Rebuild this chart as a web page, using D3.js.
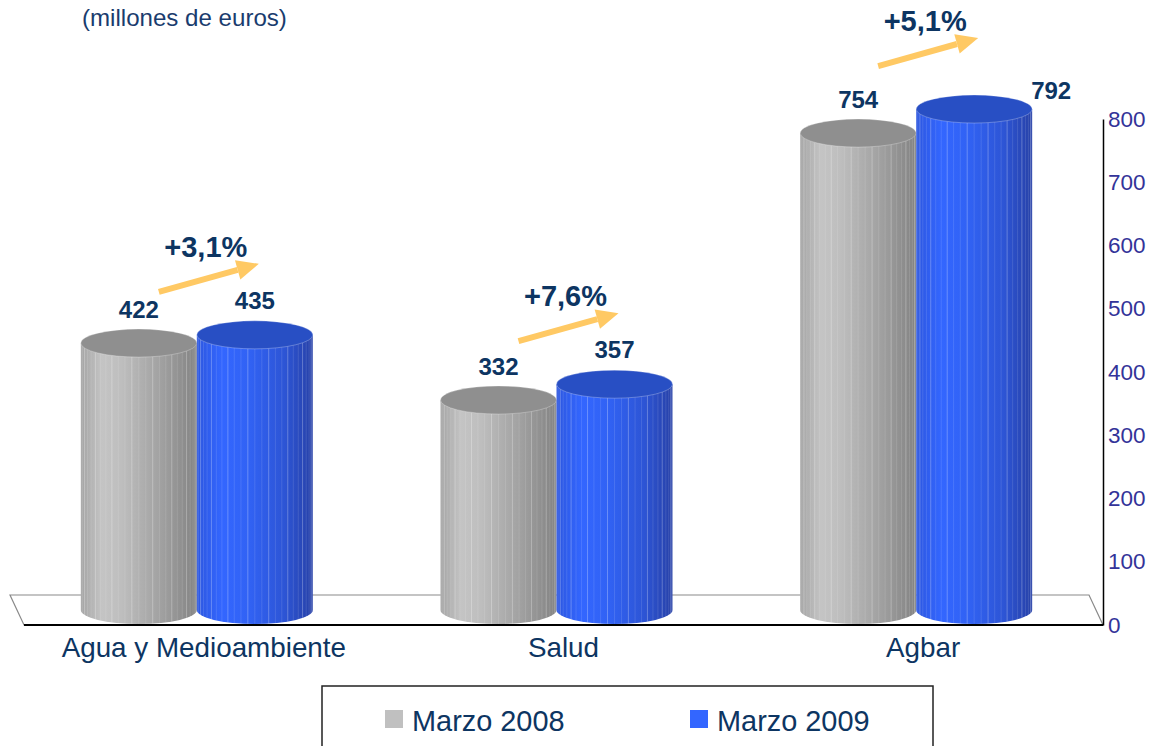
<!DOCTYPE html>
<html>
<head>
<meta charset="utf-8">
<script src="https://cdn.jsdelivr.net/npm/d3@7"></script>
<style>
  body { margin: 0; background: #fff; }
  svg { display: block; font-family: "Liberation Sans", Arial, sans-serif; }
</style>
</head>
<body>
<svg id="chart"></svg>
<script>
// data
const categories = ['Agua y Medioambiente', 'Salud', 'Agbar'];
const seriesNames = ['Marzo 2008', 'Marzo 2009'];
const values2008 = [422, 332, 754];
const values2009 = [435, 357, 792];
const growthLabels = ['+3,1%', '+7,6%', '+5,1%'];
const yTicks = [0, 100, 200, 300, 400, 500, 600, 700, 800];

const W = 1149, H = 746;
const navy = '#0d3562';
const svg = d3.select('#chart').attr('width', W).attr('height', H);
const defs = svg.append('defs');

// scales
const y = d3.scaleLinear().domain([0, 800]).range([625, 119]);
const x = d3.scaleBand().domain(categories).range([24, 1103]);
const y0 = y(0);
// depth offset of the floor (back edge), cylinders stand at half of it
const depthX = -14, depthY = -30;
const rx = 58, ry = 14;

// gradients
function grad(id, stops) {
  const g = defs.append('linearGradient').attr('id', id)
    .attr('x1', '0%').attr('x2', '100%').attr('y1', '0%').attr('y2', '0%');
  stops.forEach(s => g.append('stop').attr('offset', s[0]).attr('stop-color', s[1]));
}
grad('gGray', [['0%', '#a4a4a4'], ['18%', '#c4c4c4'], ['35%', '#bebebe'], ['70%', '#a0a0a0'], ['100%', '#838383']]);
grad('gBlue', [['0%', '#2d57e0'], ['22%', '#3366ff'], ['45%', '#3162f4'], ['75%', '#2d55d6'], ['100%', '#2741a8']]);

// floor
svg.append('polygon')
  .attr('points', [[24, y0], [1103, y0], [1103 + depthX, y0 + depthY], [24 + depthX, y0 + depthY]].join(' '))
  .attr('fill', '#fff')
  .attr('stroke', '#8a8a8a')
  .attr('stroke-width', 1.2);

// cylinders
function cylinder(cx, value, fill, topFill) {
  const base = y0 + depthY / 2;
  const top = y(value) + depthY / 2;
  const g = svg.append('g');
  g.append('path')
    .attr('d', `M${cx - rx},${top} L${cx - rx},${base} A${rx},${ry} 0 0 0 ${cx + rx},${base} L${cx + rx},${top} Z`)
    .attr('fill', fill);
  const n = 26;
  for (let i = 1; i < n; i++) {
    const t = Math.PI * i / n;
    const xx = cx - rx * Math.cos(t);
    const off = ry * Math.sin(t);
    g.append('line')
      .attr('x1', xx).attr('x2', xx)
      .attr('y1', top + off).attr('y2', base + off)
      .attr('stroke', '#ffffff')
      .attr('stroke-opacity', i % 3 === 0 ? 0.35 : 0.15)
      .attr('stroke-width', 0.8);
  }
  g.append('ellipse')
    .attr('cx', cx).attr('cy', top).attr('rx', rx).attr('ry', ry)
    .attr('fill', topFill)
    .attr('stroke', '#ffffff').attr('stroke-opacity', 0.35).attr('stroke-width', 0.8);
  return top - ry;
}

const maxVal = d3.max(values2009);

categories.forEach((c, i) => {
  const cx = x(c) + x.bandwidth() / 2 + depthX / 2;
  const grayCx = cx - rx, blueCx = cx + rx;
  const grayTop = cylinder(grayCx, values2008[i], 'url(#gGray)', '#8f8f8f');
  const blueTop = cylinder(blueCx, values2009[i], 'url(#gBlue)', '#284fc4');

  // value labels
  svg.append('text')
    .attr('x', grayCx).attr('y', grayTop - 11)
    .attr('text-anchor', 'middle')
    .attr('font-size', 24).attr('font-weight', 'bold').attr('fill', navy)
    .text(values2008[i]);
  const side = values2009[i] === maxVal;
  svg.append('text')
    .attr('x', side ? blueCx + rx - 1 : blueCx)
    .attr('y', side ? blueTop + 4 : blueTop - 12)
    .attr('text-anchor', side ? 'start' : 'middle')
    .attr('font-size', 24).attr('font-weight', 'bold').attr('fill', navy)
    .text(values2009[i]);

  // growth arrow
  const fx = x(c) + x.bandwidth() / 2;
  const mid = blueTop - 43;
  const x1 = fx - 45, y1 = mid + 14, x2 = fx + 55, y2 = mid - 14;
  const ang = Math.atan2(y2 - y1, x2 - x1);
  const hl = 22, hw = 10;
  const bx = x2 - hl * Math.cos(ang), by = y2 - hl * Math.sin(ang);
  svg.append('line')
    .attr('x1', x1).attr('y1', y1).attr('x2', bx).attr('y2', by)
    .attr('stroke', '#ffc964').attr('stroke-width', 6);
  svg.append('polygon')
    .attr('points', [[x2, y2],
      [bx - hw * Math.sin(ang), by + hw * Math.cos(ang)],
      [bx + hw * Math.sin(ang), by - hw * Math.cos(ang)]].join(' '))
    .attr('fill', '#ffc964');
  svg.append('text')
    .attr('x', fx + 2).attr('y', mid - 21)
    .attr('text-anchor', 'middle')
    .attr('font-size', 29).attr('font-weight', 'bold').attr('fill', navy)
    .text(growthLabels[i]);

  // category label
  svg.append('text')
    .attr('x', fx).attr('y', 657)
    .attr('text-anchor', 'middle')
    .attr('font-size', 27.8).attr('fill', navy)
    .text(c);
});

// front edge of the floor
svg.append('line')
  .attr('x1', 24).attr('x2', 1103).attr('y1', y0).attr('y2', y0)
  .attr('stroke', '#000').attr('stroke-width', 2);

// y axis on the right
const yAxis = d3.axisRight(y).tickValues(yTicks).tickSize(0).tickPadding(5);
const ag = svg.append('g').attr('transform', 'translate(1103,0)').call(yAxis);
ag.select('.domain').attr('stroke', '#000').attr('stroke-width', 1.5);
ag.selectAll('text')
  .attr('font-size', 22.5)
  .attr('font-family', '"Liberation Sans", Arial, sans-serif')
  .attr('fill', '#333399');

// title
svg.append('text')
  .attr('x', 82).attr('y', 26)
  .attr('font-size', 24.1).attr('fill', '#1a3c6e')
  .text('(millones de euros)');

// legend
svg.append('rect')
  .attr('x', 322).attr('y', 686).attr('width', 611).attr('height', 90)
  .attr('fill', '#fff').attr('stroke', '#222').attr('stroke-width', 1.5);
const legendColors = ['#c0c0c0', '#3366ff'];
const legendX = [385, 690];
seriesNames.forEach((s, i) => {
  svg.append('rect')
    .attr('x', legendX[i]).attr('y', 710).attr('width', 18).attr('height', 18)
    .attr('fill', legendColors[i]);
  svg.append('text')
    .attr('x', legendX[i] + 27).attr('y', 731)
    .attr('font-size', 28.9).attr('fill', navy)
    .text(s);
});
</script>
</body>
</html>
